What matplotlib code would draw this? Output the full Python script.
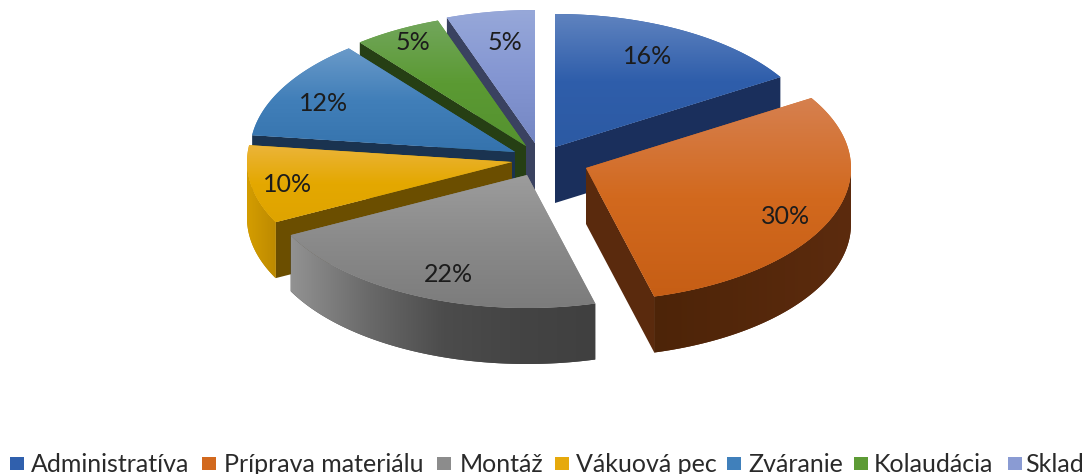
import numpy as np
import matplotlib
matplotlib.use("Agg")
import matplotlib.pyplot as plt
from matplotlib.patches import Polygon, Rectangle
from matplotlib.colors import LinearSegmentedColormap

categories = ["Administratíva", "Príprava materiálu", "Montáž", "Vákuová pec", "Zváranie", "Kolaudácia", "Sklad"]
shares = [16.2, 29.7, 21.7, 9.5, 12.2, 5.4, 5.4]

# layout / style
APEX = [(555, 147), (586, 168), (527, 175), (512, 162), (515, 152), (526, 146), (535, 143)]
LABEL_XY = [(648, 56.5), (786, 216.5), (448, 274), (288, 184.5), (324, 103), (413, 42), (505, 42)]
LEGEND_SQ = [10, 202, 437, 555, 727, 854, 1008]
LEGEND_TX = [31, 224, 460, 576, 748, 874, 1025]
TOP = [["#5f83bf", "#2f5eab", "#2c5aa3"], ["#d6804f", "#d2691e", "#c65e15"], ["#9c9c9c", "#8a8a8a", "#7c7c7c"],
       ["#ebb43a", "#e4a800", "#dfa400"], ["#6a9ac9", "#417fb9", "#3573ad"], ["#72a65c", "#5b9a33", "#55922f"],
       ["#97a8d9", "#8496d2", "#7587c3"]]
SIDE_ARC = [["#1b2f58", "#1b2f58"], ["#4d2408", "#5c2b0e"], ["#929292", "#6a6a6a", "#4c4c4c", "#444444", "#404040"],
            ["#d49d00", "#bd8a00"], ["#1a3350", "#1a3350"], ["#263f14", "#263f14"], ["#3a4260", "#3a4260"]]
SIDE_CUT = ["#1a2f5c", "#5a2a0d", "#444444", "#6b4e00", "#1a3350", "#263f14", "#3a4260"]
LEGEND_COL = ["#3060ad", "#d2691e", "#8c8c8c", "#e6a90c", "#4080bb", "#5d9b35", "#8a9bd3"]
RX, RY, DEPTH = 265, 133, 56
FONT = ["Lato", "DejaVu Sans"]

fig = plt.figure(figsize=(10.88, 4.74), dpi=100, facecolor="white")
ax = fig.add_axes([0, 0, 1, 1])
ax.axis("off")


def gradient(poly, stops, vertical=True, z=1):
    poly = np.asarray(poly)
    cmap = LinearSegmentedColormap.from_list("g", stops)
    patch = Polygon(poly, closed=True, facecolor=stops[len(stops) // 2], edgecolor="none", zorder=z)
    ax.add_patch(patch)
    g = np.linspace(0, 1, 256)
    g = g[:, None] if vertical else g[None, :]
    x0, y0 = poly.min(axis=0)
    x1, y1 = poly.max(axis=0)
    im = ax.imshow(g, cmap=cmap, extent=(x0, x1, y1, y0), aspect="auto", zorder=z, interpolation="bilinear")
    im.set_clip_path(patch)


total = sum(shares)
edges = np.cumsum([0] + shares) / total * 2 * np.pi


def pt(c, t, dy=0):
    return np.column_stack([c[0] + RX * np.sin(t), c[1] - RY * np.cos(t) + dy])


order = [0, 6, 5, 4, 3, 2, 1]
z = 1
for i in order:
    t1, t2 = edges[i], edges[i + 1]
    c = APEX[i]
    ts = np.linspace(t1, t2, 120)
    rim = pt(c, ts)
    apex = np.array([c])
    # cut wall at the start of the slice
    if np.sin(t1) < -1e-6:
        p = pt(c, np.array([t1]))
        ax.add_patch(Polygon([c, p[0], p[0] + [0, DEPTH], (c[0], c[1] + DEPTH)], facecolor=SIDE_CUT[i], edgecolor="none", zorder=z))
    # cut wall at the end of the slice
    if np.sin(t2) > 1e-6:
        p = pt(c, np.array([t2]))
        ax.add_patch(Polygon([c, p[0], p[0] + [0, DEPTH], (c[0], c[1] + DEPTH)], facecolor=SIDE_CUT[i], edgecolor="none", zorder=z))
    # outer wall (front half only)
    front = ts[np.cos(ts) < 0.02]
    if i in (1, 2, 3) and len(front) > 1:
        a = pt(c, front)
        b = a[::-1] + [0, DEPTH]
        gradient(np.vstack([a, b]), SIDE_ARC[i], vertical=False, z=z)
    # top face
    gradient(np.vstack([apex, rim]), TOP[i], vertical=True, z=z)
    z += 1

for x, y, s in zip([p[0] for p in LABEL_XY], [p[1] for p in LABEL_XY], shares):
    ax.text(x, y, f"{round(s)}%", ha="center", va="center", fontsize=18, family=FONT, color="#1c1c1c", zorder=50)

for sq, tx, name, col in zip(LEGEND_SQ, LEGEND_TX, categories, LEGEND_COL):
    ax.add_patch(Rectangle((sq, 457), 14, 13, facecolor=col, edgecolor="none", zorder=50))
    ax.text(tx, 472, name, ha="left", va="baseline", fontsize=18, family=FONT, color="#2a2a2a", zorder=50)

ax.set_xlim(0, 1088)
ax.set_ylim(474, 0)
fig.savefig("out.png", dpi=100, facecolor="white")
